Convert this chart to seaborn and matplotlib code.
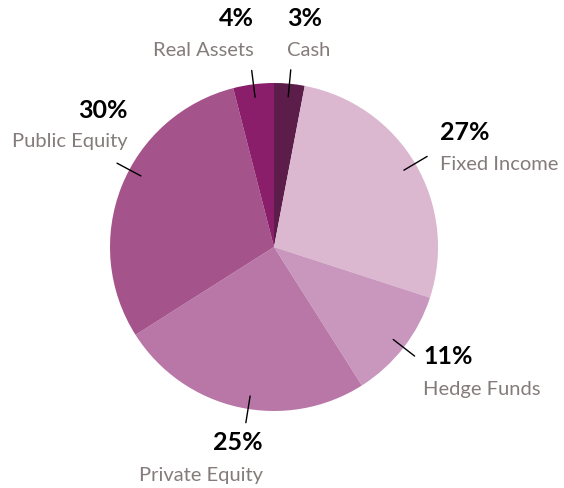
import numpy as np
import matplotlib
matplotlib.use("Agg")
import matplotlib.pyplot as plt
import seaborn as sns

categories = ["Cash", "Fixed Income", "Hedge Funds", "Private Equity", "Public Equity", "Real Assets"]
values = [3, 27, 11, 25, 30, 4]
colors = ["#5c1d4b", "#dbb7d0", "#c997be", "#b877a6", "#a5538b", "#8a1e6b"]

sns.set_theme(style="white")
plt.rcParams['font.family'] = ['Lato', 'DejaVu Sans']

W, H = 564, 488
fig = plt.figure(figsize=(W / 100, H / 100), dpi=100)
ax = fig.add_axes([0, 0, 1, 1])
cx, cy, r = 274, H - 247, 164
wedges, _ = ax.pie(values, colors=colors, startangle=90, counterclock=False,
                   center=(cx, cy), radius=r, wedgeprops=dict(linewidth=0))
ax.set_xlim(0, W)
ax.set_ylim(0, H)
ax.set_aspect('equal')
ax.axis('off')

# label placement (pixel coords, top-left origin): (x, y_pct, y_name, ha, leader angle shift)
label_pos = {
    "Cash": (287, 19, 51, "left", 0),
    "Fixed Income": (440, 133, 165, "left", 0),
    "Hedge Funds": (423, 357, 389, "left", 0),
    "Private Equity": (263, 443, 476, "right", 3.5),
    "Public Equity": (128, 110, 141, "right", -6.5),
    "Real Assets": (254, 19, 51, "right", 0),
}
for w, cat, v in zip(wedges, categories, values):
    x, yp, yn, ha, shift = label_pos[cat]
    mid = np.deg2rad((w.theta1 + w.theta2) / 2 + shift)
    x0, y0 = cx + 0.92 * r * np.cos(mid), cy + 0.92 * r * np.sin(mid)
    x1, y1 = cx + 1.085 * r * np.cos(mid), cy + 1.085 * r * np.sin(mid)
    ax.plot([x0, x1], [y0, y1], color="black", lw=1)
    ax.text(x, H - yp, f"{v}%", ha=ha, va="center", fontsize=18, fontweight="bold", color="black")
    ax.text(x, H - yn, cat, ha=ha, va="center", fontsize=14.5, color="#857b7b")

fig.savefig("out.png", dpi=100)
